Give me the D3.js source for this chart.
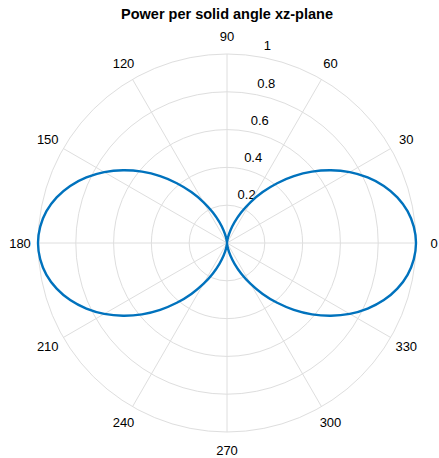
<!DOCTYPE html>
<html>
<head>
<meta charset="utf-8">
<script src="https://cdn.jsdelivr.net/npm/d3@7"></script>
<style>
  html, body { margin: 0; padding: 0; background: #fff; }
  svg { display: block; }
  text { font-family: "Liberation Sans", Arial, Helvetica, sans-serif; fill: #000; }
</style>
</head>
<body>
<svg id="chart" width="439" height="458"></svg>
<script>
// Angles (degrees, counter-clockwise from 0) and normalized power per solid angle
const angles = [
  0, 5, 10, 15, 20, 25, 30, 35, 40, 45, 50, 55, 60, 65, 70, 75, 80, 85,
  90, 95, 100, 105, 110, 115, 120, 125, 130, 135, 140, 145, 150, 155, 160, 165, 170, 175,
  180, 185, 190, 195, 200, 205, 210, 215, 220, 225, 230, 235, 240, 245, 250, 255, 260, 265,
  270, 275, 280, 285, 290, 295, 300, 305, 310, 315, 320, 325, 330, 335, 340, 345, 350, 355
];
const power = [
  1.000, 0.992, 0.970, 0.933, 0.883, 0.821, 0.750, 0.671, 0.587, 0.500, 0.413, 0.329, 0.250, 0.179, 0.117, 0.067, 0.030, 0.008,
  0.000, 0.008, 0.030, 0.067, 0.117, 0.179, 0.250, 0.329, 0.413, 0.500, 0.587, 0.671, 0.750, 0.821, 0.883, 0.933, 0.970, 0.992,
  1.000, 0.992, 0.970, 0.933, 0.883, 0.821, 0.750, 0.671, 0.587, 0.500, 0.413, 0.329, 0.250, 0.179, 0.117, 0.067, 0.030, 0.008,
  0.000, 0.008, 0.030, 0.067, 0.117, 0.179, 0.250, 0.329, 0.413, 0.500, 0.587, 0.671, 0.750, 0.821, 0.883, 0.933, 0.970, 0.992
];
const thetaTicks = [0, 30, 60, 90, 120, 150, 180, 210, 240, 270, 300, 330];
const rTicks = [0.2, 0.4, 0.6, 0.8, 1];
const titleText = "Power per solid angle xz-plane";

const svg = d3.select("#chart");
const cx = 227, cy = 243, R = 189;
const rScale = d3.scaleLinear().domain([0, 1]).range([0, R]);
const toRad = d => d * Math.PI / 180;
const gridColor = "#dedede";

const g = svg.append("g").attr("transform", `translate(${cx},${cy})`);

// Concentric rings
g.selectAll("circle.ring").data(rTicks).join("circle")
  .attr("class", "ring")
  .attr("r", d => rScale(d))
  .attr("fill", "none")
  .attr("stroke", gridColor)
  .attr("stroke-width", 1);

// Angular spokes
g.selectAll("line.spoke").data(thetaTicks).join("line")
  .attr("class", "spoke")
  .attr("x1", 0).attr("y1", 0)
  .attr("x2", d => rScale(1) * Math.cos(toRad(d)))
  .attr("y2", d => -rScale(1) * Math.sin(toRad(d)))
  .attr("stroke", gridColor)
  .attr("stroke-width", 1);

// Angle labels
const labelR = R + 18;
g.selectAll("text.theta").data(thetaTicks).join("text")
  .attr("class", "theta")
  .attr("x", d => labelR * Math.cos(toRad(d)))
  .attr("y", d => -labelR * Math.sin(toRad(d)))
  .attr("text-anchor", "middle")
  .attr("dominant-baseline", "central")
  .attr("font-size", 13)
  .text(d => d);

// Radius labels along the 80 degree direction
const rAxisAngle = toRad(80);
g.selectAll("text.rtick").data(rTicks).join("text")
  .attr("class", "rtick")
  .attr("x", d => rScale(d) * Math.cos(rAxisAngle) + 4)
  .attr("y", d => -rScale(d) * Math.sin(rAxisAngle) - 11)
  .attr("text-anchor", "start")
  .attr("dominant-baseline", "central")
  .attr("font-size", 13)
  .text(d => d);

// Radiation pattern
const pts = angles.map((a, i) => [toRad(90 - a), rScale(power[i])]);
const radial = d3.lineRadial()
  .angle(d => d[0])
  .radius(d => d[1])
  .curve(d3.curveCatmullRomClosed.alpha(0.5));

g.append("path")
  .datum(pts)
  .attr("d", radial)
  .attr("fill", "none")
  .attr("stroke", "#0072BD")
  .attr("stroke-width", 2.4)
  .attr("stroke-linejoin", "round");

// Title
svg.append("text")
  .attr("x", cx)
  .attr("y", 19)
  .attr("text-anchor", "middle")
  .attr("font-size", 14.5)
  .attr("font-weight", "bold")
  .text(titleText);
</script>
</body>
</html>
